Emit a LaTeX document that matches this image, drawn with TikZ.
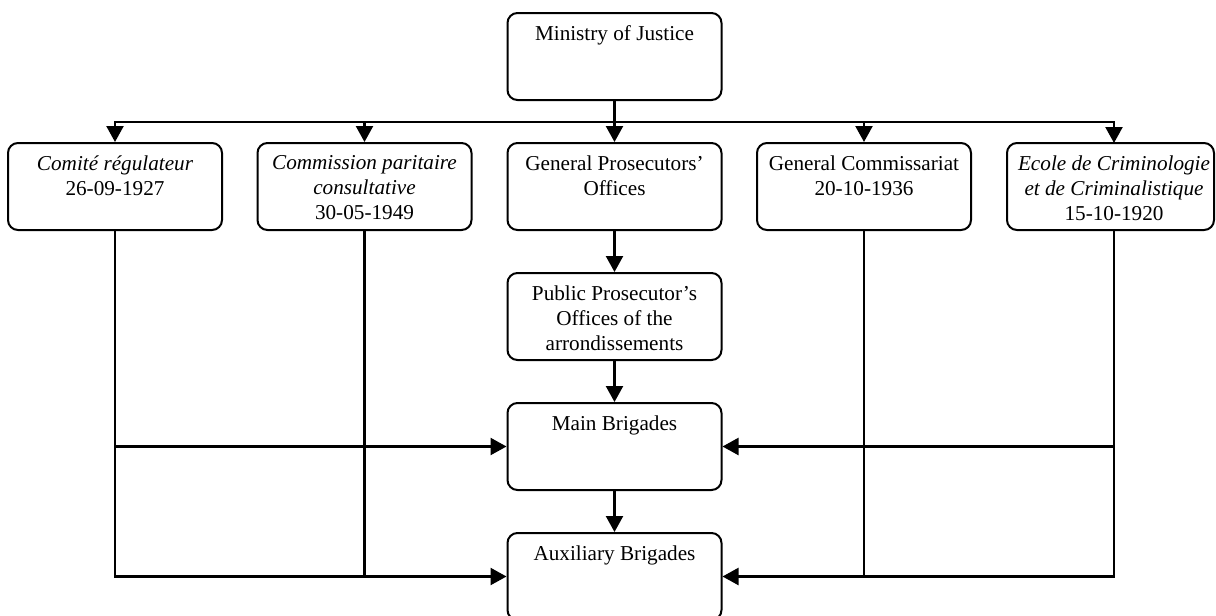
\documentclass[tikz,border=0pt]{standalone}
\usepackage{fontspec}
\setmainfont{Liberation Serif}
\usetikzlibrary{arrows.meta}
\newcommand{\bxt}[2][200pt]{\parbox[c][62pt][t]{#1}{\centering #2}}
\begin{document}
\begin{tikzpicture}[x=1pt,y=-1pt,
  orgbox/.style={draw, line width=2pt, rounded corners=10pt, minimum width=214pt,
    minimum height=87pt, inner sep=0pt, font=\fontsize{21.2}{25}\selectfont},
  conn/.style={line width=2.3pt},
  arr/.style={conn, -{Triangle[length=16pt,width=17pt]}}]
\useasboundingbox (0,0) rectangle (1216,616);
\node[orgbox] (min) at (614.5,56.5) {\bxt{Ministry of Justice}};
\node[orgbox] (b1) at (115,186.5) {\bxt{\itshape Comité régulateur\\\upshape 26-09-1927}};
\node[orgbox] (b2) at (364.5,186.5) {\bxt{\itshape Commission paritaire\\consultative\\\upshape 30-05-1949}};
\node[orgbox] (b3) at (614.5,186.5) {\bxt{General Prosecutors’\\Offices}};
\node[orgbox] (b4) at (864,186.5) {\bxt{General Commissariat\\20-10-1936}};
\node[orgbox, minimum width=207pt] (b5) at (1110.5,186.5) {\hspace*{7pt}\bxt{\itshape Ecole de Criminologie\\et de Criminalistique\\\upshape 15-10-1920}};
\node[orgbox] (ppo) at (614.5,316.5) {\bxt{Public Prosecutor’s\\Offices of the\\arrondissements}};
\node[orgbox] (main) at (614.5,446.5) {\bxt{Main Brigades}};
\node[orgbox] (aux) at (614.5,576.5) {\bxt{Auxiliary Brigades}};
\coordinate (bus) at (614.5,122);
\coordinate (b5top) at (1114,143);
\coordinate (b5bot) at (1114,230);
% top distribution
\draw[conn] (min.south) -- (bus);
\draw[arr] (bus) -| (b1.north);
\draw[arr] (bus) -| (b5top);
\foreach \n in {b2,b3,b4} \draw[arr] (bus -| \n.north) -- (\n.north);
% central chain
\draw[arr] (b3.south) -- (ppo.north);
\draw[arr] (ppo.south) -- (main.north);
\draw[arr] (main.south) -- (aux.north);
% left side
\draw[arr] (b1.south) |- (aux.west);
\draw[conn] (b2.south) -- (b2.south |- aux.west);
\draw[arr] (b1.south |- main.west) -- (main.west);
% right side
\draw[arr] (b5bot) |- (aux.east);
\draw[conn] (b4.south) -- (b4.south |- aux.east);
\draw[arr] (b5bot |- main.east) -- (main.east);
\end{tikzpicture}
\end{document}
